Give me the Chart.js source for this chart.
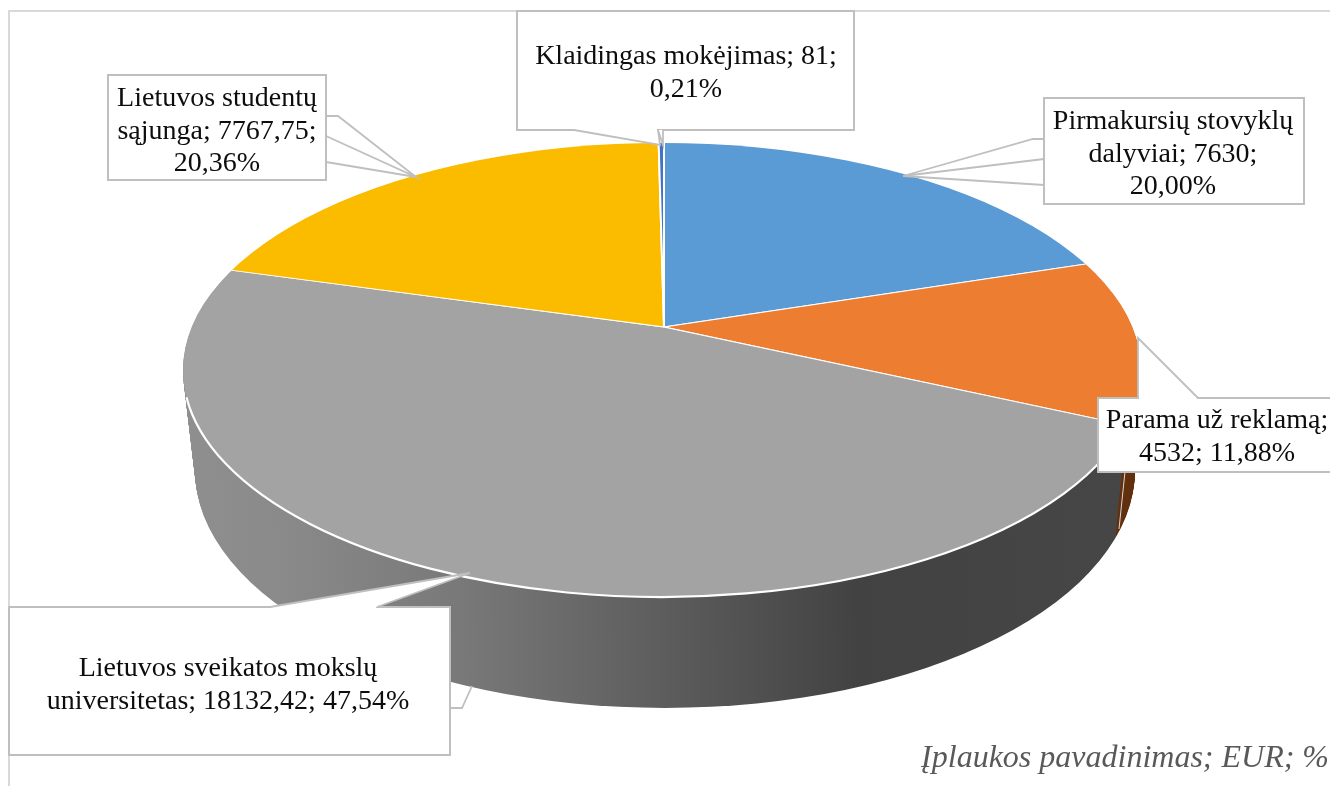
<!DOCTYPE html>
<html>
<head>
<meta charset="utf-8">
<title>Įplaukos</title>
<script src="https://cdn.jsdelivr.net/npm/chart.js@4"></script>
<style>
  html, body { margin: 0; padding: 0; background: #fff; }
  canvas { display: block; }
</style>
</head>
<body>
<canvas id="incomePie" width="1330" height="786"></canvas>
<script>
const categories = ["Pirmakursių stovyklų dalyviai", "Parama už reklamą", "Lietuvos sveikatos mokslų universitetas", "Lietuvos studentų sąjunga", "Klaidingas mokėjimas"];
const eurValues = [7630, 4532, 18132.42, 7767.75, 81];
const sliceColors = ["#5B9BD5", "#ED7D31", "#A3A3A3", "#FBBC00", "#4472C4"];
const captionText = "Įplaukos pavadinimas; EUR; %";

// text of each callout, same order as categories
const calloutLines = [
    ["Pirmakursių stovyklų", "dalyviai; 7630;", "20,00%"],
    ["Parama už reklamą;", "4532; 11,88%"],
    ["Lietuvos sveikatos mokslų", "universitetas; 18132,42; 47,54%"],
    ["Lietuvos studentų", "sąjunga; 7767,75;", "20,36%"],
    ["Klaidingas mokėjimas; 81;", "0,21%"]
];

// layout of the callouts: box, gap in the box edge, text centre, first baseline, outline of the pointer
const calloutLayout = [
    { box: [1044, 98, 260, 106], gap: null, tx: 1173, ty: 129, wedges: [[[1044, 139], [1033, 139], [903, 176], [1044, 159]], [[1044, 185], [903, 176]]] },
    { box: [1098, 398, 240, 74], gap: [1139, 396, 58, 4], tx: 1217, ty: 428, wedges: [[[1138, 398], [1138, 338], [1198, 398]]] },
    { box: [9, 607, 441, 148], gap: [271, 605, 105, 4], tx: 228, ty: 676, wedges: [[[270, 607], [470, 573], [377, 607]], [[450, 708], [462, 708], [472, 686]]] },
    { box: [108, 75, 218, 105], gap: null, tx: 217, ty: 106, wedges: [[[326, 116], [338, 116], [416, 177], [326, 136]], [[326, 162], [416, 177]]] },
    { box: [517, 11, 337, 119], gap: [575, 128, 82, 4], tx: 686, ty: 64, wedges: [[[574, 130], [660, 145], [658, 130]], [[663, 130], [663, 145], [658, 130]]] }
];

// pie geometry on the page: visible rim and slice apex (perspective moves the apex off centre)
const topRim = { x: 662, y: 370, rx: 479, ry: 227, apexX: 664, apexY: 327 };
const lowRim = { x: 665, y: 470, rx: 470, ry: 238, apexX: 665, apexY: 442 };
const pieScale = 2.2;
const pieTilt = 0.46;

function mix(a, b, t) {
    return a + (b - a) * t;
}

function enterRim(ctx, chart, rim) {
    const first = chart.getDatasetMeta(0).data[0];
    ctx.save();
    ctx.beginPath();
    ctx.ellipse(rim.x, rim.y, rim.rx, rim.ry, 0, 0, Math.PI * 2);
    ctx.clip();
    ctx.translate(rim.apexX, rim.apexY);
    ctx.scale(pieScale, pieScale * pieTilt);
    ctx.translate(-first.x, -first.y);
}

const pie3d = {
    id: "pie3d",
    beforeDatasetsDraw(chart) {
        const ctx = chart.ctx;
        const arcs = chart.getDatasetMeta(0).data;
        const first = arcs[0];
        const toLocal = x => first.x + (x - topRim.apexX) / pieScale;

        // side wall, built from the same arcs stacked from the lower rim upwards
        const wall = ctx.createLinearGradient(toLocal(185), 0, toLocal(1120), 0);
        wall.addColorStop(0, "#8F8F8F");
        wall.addColorStop(0.1, "#8A8A8A");
        wall.addColorStop(0.3, "#787878");
        wall.addColorStop(0.72, "#424242");
        wall.addColorStop(1, "#464646");
        const wallColors = ["#264F73", "#643210", wall, "#8F6C00", "#263F6E"];
        const layers = 116;
        for (let i = layers; i >= 1; i--) {
            const t = i / layers;
            const rim = {};
            Object.keys(topRim).forEach(k => { rim[k] = mix(topRim[k], lowRim[k], t); });
            enterRim(ctx, chart, rim);
            arcs.forEach((arc, n) => {
                const saved = arc.options;
                arc.options = Object.assign({}, saved, { backgroundColor: wallColors[n], borderWidth: 0 });
                arc.draw(ctx);
                arc.options = saved;
            });
            ctx.restore();
        }

        // thin light edge between grey and brown wall
        ctx.strokeStyle = "#D8D8D8";
        ctx.lineWidth = 1;
        ctx.beginPath();
        ctx.moveTo(1126, 462);
        ctx.lineTo(1119, 529);
        ctx.stroke();

        enterRim(ctx, chart, topRim);
    },
    afterDatasetsDraw(chart) {
        const ctx = chart.ctx;
        ctx.restore();

        // white edge of the front rim
        ctx.strokeStyle = "#FFFFFF";
        ctx.lineWidth = 2.2;
        ctx.beginPath();
        ctx.ellipse(topRim.x, topRim.y, topRim.rx, topRim.ry, 0, 0.2, Math.PI - 0.12);
        ctx.stroke();

        drawCallouts(ctx);

        ctx.font = "italic 32px 'Liberation Serif'";
        ctx.fillStyle = "#595959";
        ctx.textAlign = "right";
        ctx.fillText(captionText, 1329, 767);
    }
};

function drawCallouts(ctx) {
    // chart frame
    ctx.strokeStyle = "#D9D9D9";
    ctx.lineWidth = 2;
    ctx.beginPath();
    ctx.moveTo(9, 786);
    ctx.lineTo(9, 11);
    ctx.lineTo(1330, 11);
    ctx.stroke();

    calloutLayout.forEach((c, n) => {
        const [x, y, w, h] = c.box;
        ctx.fillStyle = "#FFFFFF";
        ctx.fillRect(x, y, w, h);
        ctx.strokeStyle = "#BFBFBF";
        ctx.lineWidth = 2;
        ctx.strokeRect(x, y, w, h);

        // open the box where a pointer leaves it
        if (c.gap) ctx.fillRect(c.gap[0], c.gap[1], c.gap[2], c.gap[3]);

        c.wedges.forEach(points => {
            ctx.beginPath();
            points.forEach((p, i) => (i ? ctx.lineTo(p[0], p[1]) : ctx.moveTo(p[0], p[1])));
            if (c.gap) ctx.fill();
            ctx.lineWidth = 1.8;
            ctx.stroke();
        });

        ctx.font = "28px 'Liberation Serif'";
        ctx.fillStyle = "#0D0D0D";
        ctx.textAlign = "center";
        ctx.textBaseline = "alphabetic";
        calloutLines[n].forEach((line, i) => {
            ctx.fillText(line, c.tx, c.ty + i * 32.5);
        });
    });
}

new Chart(document.getElementById("incomePie"), {
    type: "pie",
    data: {
        labels: categories,
        datasets: [{
            data: eurValues,
            backgroundColor: sliceColors,
            borderColor: "#FFFFFF",
            borderWidth: 0.9
        }]
    },
    options: {
        responsive: false,
        animation: false,
        plugins: {
            legend: { display: false },
            tooltip: { enabled: false }
        }
    },
    plugins: [pie3d]
});
</script>
</body>
</html>
